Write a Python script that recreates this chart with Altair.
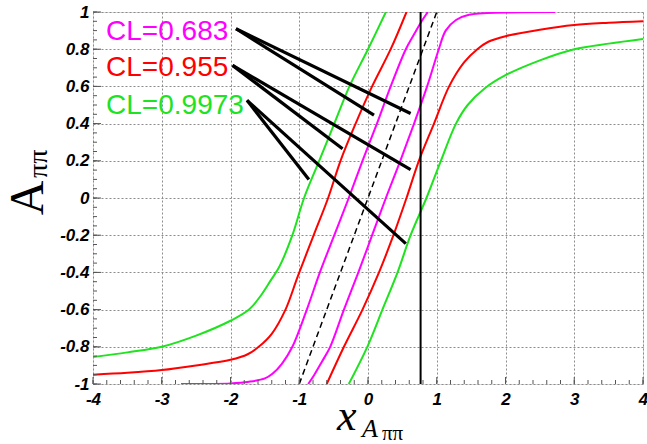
import altair as alt
import pandas as pd

# ---- data ----
# CL = 0.683 (magenta) band edges
mag_left_x = [-2.72, -2.0, -1.73, -1.5, -1.39, -1.25, -1.1, -0.89, -0.70, -0.49, -0.28, -0.08, 0.13, 0.33, 0.55, 0.67, 0.78, 0.87]
mag_left_y = [-1.0, -0.997, -0.988, -0.97, -0.945, -0.89, -0.8, -0.6, -0.4, -0.2, 0.0, 0.2, 0.4, 0.6, 0.8, 0.88, 0.95, 1.0]
mag_right_x = [-0.87, -0.78, -0.67, -0.55, -0.35, -0.14, 0.06, 0.26, 0.47, 0.67, 0.86, 1.03, 1.13, 1.28, 1.47, 2.0, 2.72]
mag_right_y = [-1.0, -0.95, -0.88, -0.8, -0.6, -0.4, -0.2, 0.0, 0.2, 0.4, 0.6, 0.8, 0.9, 0.957, 0.985, 0.997, 1.0]

# CL = 0.955 (red)
red_left_x = [-4.0, -3.5, -3.0, -2.5, -2.0, -1.75, -1.59, -1.4, -1.2, -1.02, -0.79, -0.58, -0.40, -0.18, 0.06, 0.33, 0.56]
red_left_y = [-0.95, -0.94, -0.925, -0.90, -0.87, -0.84, -0.8, -0.73, -0.6, -0.42, -0.2, 0.0, 0.2, 0.4, 0.6, 0.8, 1.0]
red_right_x = [-0.60, -0.35, -0.08, 0.16, 0.37, 0.56, 0.74, 0.96, 1.18, 1.4, 1.59, 1.75, 2.0, 2.5, 3.0, 3.5, 4.0]
red_right_y = [-1.0, -0.8, -0.6, -0.4, -0.2, 0.0, 0.2, 0.4, 0.6, 0.73, 0.8, 0.84, 0.87, 0.905, 0.93, 0.942, 0.95]

# CL = 0.9973 (green)
grn_left_x = [-4.0, -3.5, -3.0, -2.5, -2.0, -1.73, -1.55, -1.41, -1.29, -1.10, -0.93, -0.71, -0.49, -0.27, 0.0, 0.26]
grn_left_y = [-0.855, -0.83, -0.80, -0.74, -0.66, -0.6, -0.52, -0.44, -0.37, -0.2, 0.0, 0.2, 0.4, 0.6, 0.8, 1.0]
grn_right_x = [-0.28, -0.01, 0.21, 0.43, 0.62, 0.85, 1.06, 1.28, 1.45, 1.7, 2.0, 2.5, 3.0, 3.5, 4.0]
grn_right_y = [-1.0, -0.8, -0.6, -0.4, -0.2, 0.0, 0.2, 0.4, 0.5, 0.59, 0.66, 0.74, 0.80, 0.83, 0.855]

# dashed diagonal and measured value
diag_x = [-1.0, 1.0]
diag_y = [-1.0, 1.0]
x_meas = [0.765]

# annotation labels and pointer lines
cl_labels = ["CL=0.683", "CL=0.955", "CL=0.9973"]
cl_colors = ["#ff00ff", "#ff0000", "#1ee31e"]
label_x = [-3.81, -3.81, -3.81]
label_y = [0.852, 0.654, 0.454]

ptr_x1 = [-1.92, -1.92, -1.97, -1.97, -1.76, -1.76]
ptr_y1 = [0.91, 0.91, 0.713, 0.713, 0.525, 0.525]
ptr_x2 = [0.087, 0.62, -0.37, 0.62, -0.86, 0.55]
ptr_y2 = [0.445, 0.454, 0.265, 0.153, 0.099, -0.245]

# axis ticks
x_major = [-4, -3, -2, -1, 0, 1, 2, 3, 4]
x_minor = [round(-4 + 0.2 * i, 2) for i in range(41)]
y_major = [-1, -0.8, -0.6, -0.4, -0.2, 0, 0.2, 0.4, 0.6, 0.8, 1]
y_minor = [round(-1 + 0.05 * i, 2) for i in range(41)]

W, H = 550, 372

# ---- build tables ----
rows = []
for name, cl, xs_, ys_ in [
    ("m_l", cl_labels[0], mag_left_x, mag_left_y),
    ("m_r", cl_labels[0], mag_right_x, mag_right_y),
    ("r_l", cl_labels[1], red_left_x, red_left_y),
    ("r_r", cl_labels[1], red_right_x, red_right_y),
    ("g_l", cl_labels[2], grn_left_x, grn_left_y),
    ("g_r", cl_labels[2], grn_right_x, grn_right_y),
]:
    for i, (a, b) in enumerate(zip(xs_, ys_)):
        rows.append({"x": a, "y": b, "curve": name, "cl": cl, "o": i})
curves = pd.DataFrame(rows)

xs = alt.Scale(domain=[-4, 4], nice=False, zero=False)
ys = alt.Scale(domain=[-1, 1], nice=False, zero=False)
col = alt.Scale(domain=cl_labels, range=cl_colors)

lab_font = "Liberation Sans"

x_axis = alt.Axis(values=x_major, grid=True, gridDash=[2, 2], gridColor="#8c8c8c", gridWidth=1,
                  ticks=False, domain=False, labelFont=lab_font, labelFontSize=17,
                  labelFontStyle="italic", labelFontWeight="bold", labelColor="black",
                  labelPadding=7, labelExpr="'' + datum.value", title=None,
                  labelFlush=False, labelOverlap=False, labelBound=False)
y_axis = alt.Axis(values=y_major, grid=True, gridDash=[2, 2], gridColor="#8c8c8c", gridWidth=1,
                  ticks=False, domain=False, labelFont=lab_font, labelFontSize=17,
                  labelFontStyle="italic", labelFontWeight="bold", labelColor="black",
                  labelPadding=4, labelExpr="'' + datum.value", title=None,
                  labelFlush=False, labelOverlap=False, labelBound=False)

X = lambda f: alt.X(f, scale=xs, axis=x_axis)
Y = lambda f: alt.Y(f, scale=ys, axis=y_axis)

lines = alt.Chart(curves).mark_line(strokeWidth=2, clip=True, interpolate="catmull-rom").encode(
    x=X("x:Q"),
    y=Y("y:Q"),
    color=alt.Color("cl:N", scale=col, legend=None),
    detail="curve:N",
    order="o:Q",
)

diag = alt.Chart(pd.DataFrame({"x": diag_x, "y": diag_y})).mark_line(
    color="black", strokeWidth=1.5, strokeDash=[6, 4], clip=True
).encode(x=X("x:Q"), y=Y("y:Q"))

vline = alt.Chart(pd.DataFrame({"x": x_meas})).mark_rule(color="black", strokeWidth=2).encode(
    x=X("x:Q")
)

ptrs = alt.Chart(pd.DataFrame({"x": ptr_x1, "y": ptr_y1, "x2": ptr_x2, "y2": ptr_y2})).mark_rule(
    color="black", strokeWidth=3.2, strokeCap="butt"
).encode(x=X("x:Q"), y=Y("y:Q"), x2="x2:Q", y2="y2:Q")

labels = alt.Chart(pd.DataFrame({"x": label_x, "y": label_y, "t": cl_labels})).mark_text(
    align="left", baseline="alphabetic", font=lab_font, fontSize=28
).encode(
    x=X("x:Q"), y=Y("y:Q"), text="t:N",
    color=alt.Color("t:N", scale=col, legend=None),
)

tick_col = "#555555"
yt_major = alt.Chart(pd.DataFrame({"v": y_major})).mark_rule(color=tick_col, strokeWidth=1).encode(
    y=Y("v:Q"), x=alt.value(0), x2=alt.value(8))
yt_minor = alt.Chart(pd.DataFrame({"v": y_minor})).mark_rule(color=tick_col, strokeWidth=1).encode(
    y=Y("v:Q"), x=alt.value(0), x2=alt.value(4))
xt_major = alt.Chart(pd.DataFrame({"v": x_major})).mark_rule(color=tick_col, strokeWidth=1).encode(
    x=X("v:Q"), y=alt.value(H), y2=alt.value(H - 7))
xt_minor = alt.Chart(pd.DataFrame({"v": x_minor})).mark_rule(color=tick_col, strokeWidth=1).encode(
    x=X("v:Q"), y=alt.value(H), y2=alt.value(H - 4))

# axis titles composed of text pieces (sub/superscripts)
def txt(s, px, py, size, style="normal", angle=0, align="left", font="Liberation Serif"):
    return alt.Chart(pd.DataFrame({"t": [s]})).mark_text(
        align=align, baseline="alphabetic", font=font, fontSize=size,
        fontStyle=style, angle=angle, color="black"
    ).encode(text="t:N", x=alt.value(px), y=alt.value(py))

xt1 = txt("x", 244, 418, 44, "italic")
xt2 = txt("A", 269, 425, 26, "italic")
xt3 = txt("ππ", 289, 428, 21)
yt1 = txt("A", -50, 186, 48, "normal", 270, "center")
yt2 = txt("ππ", -46, 166, 28, "normal", 270, "left")

chart = alt.layer(
    lines, diag, vline, ptrs, labels,
    yt_major, yt_minor, xt_major, xt_minor,
    xt1, xt2, xt3, yt1, yt2,
).properties(
    width=W, height=H,
    padding={"left": 93, "top": 12, "right": 4, "bottom": 60},
    autosize=alt.AutoSizeParams(type="none"),
).configure_view(
    stroke="#666666", strokeWidth=1
).configure(background="white")

chart.save("out.html", embed_options={"renderer": "svg", "actions": False})
